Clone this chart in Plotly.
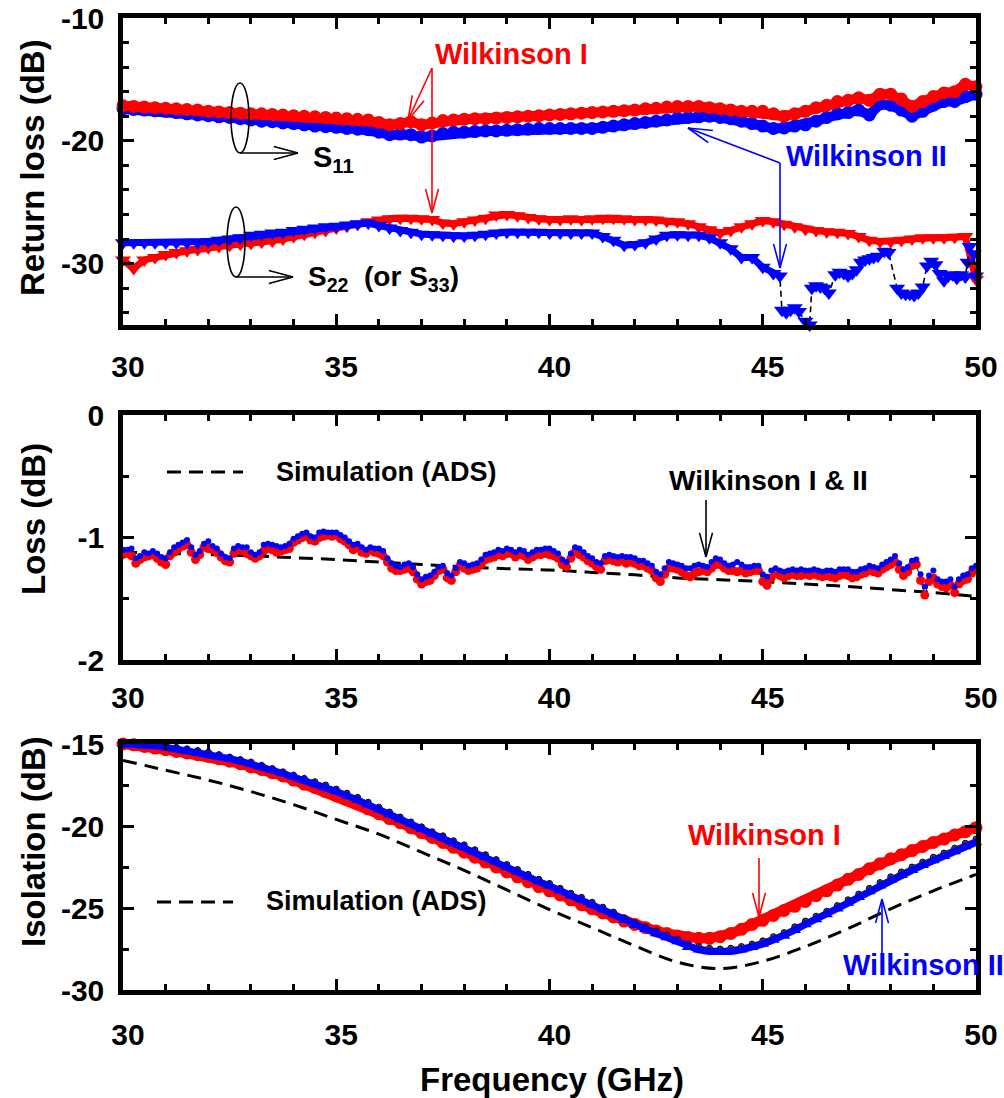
import math
import plotly.graph_objects as go

W, H = 1004, 1098
FONT = "Liberation Sans, Arial, Helvetica, sans-serif"
RED = "#ff0000"
BLUE = "#0000ff"

# ---------------------------------------------------------------- data
# measurement sweep, 0.25 GHz steps from 30 to 50 GHz
f_band = [round(30 + 0.25 * i, 2) for i in range(81)]

# return loss S11 (dB)
s11_wil1 = [
    -17.15, -17.2, -17.25, -17.3,
    -17.35, -17.4, -17.45, -17.5,
    -17.6, -17.65, -17.7, -17.75,
    -17.8, -17.8, -17.85, -17.9,
    -17.95, -18.0, -18.05, -18.1,
    -18.15, -18.2, -18.25, -18.3,
    -18.5, -18.7, -18.6, -18.45,
    -18.7, -18.55, -18.35, -18.3,
    -18.25, -18.2, -18.2, -18.15,
    -18.1, -18.05, -18.0, -17.95,
    -17.9, -17.85, -17.8, -17.75,
    -17.7, -17.65, -17.6, -17.55,
    -17.5, -17.4, -17.35, -17.25,
    -17.2, -17.2, -17.2, -17.3,
    -17.4, -17.5, -17.6, -17.6,
    -17.6, -17.8, -18.0, -17.8,
    -17.6, -17.3, -17.1, -16.8,
    -16.7, -16.5, -16.7, -16.2,
    -16.2, -16.6, -17.2, -16.8,
    -16.4, -16.1, -16.0, -15.4,
    -15.6,
]
s11_wil2 = [
    -17.4, -17.45, -17.5, -17.55,
    -17.6, -17.7, -17.8, -17.9,
    -17.95, -18.05, -18.1, -18.2,
    -18.3, -18.4, -18.45, -18.55,
    -18.6, -18.7, -18.8, -18.85,
    -18.9, -19.0, -19.05, -19.1,
    -19.3, -19.5, -19.45, -19.5,
    -19.7, -19.6, -19.4, -19.3,
    -19.3, -19.25, -19.2, -19.2,
    -19.15, -19.1, -19.05, -19.0,
    -19.0, -19.0, -19.0, -19.0,
    -19.0, -18.9, -18.8, -18.7,
    -18.6, -18.5, -18.4, -18.3,
    -18.15, -18.1, -18.05, -18.0,
    -18.1, -18.2, -18.4, -18.6,
    -18.8, -19.0, -18.95, -18.8,
    -18.7, -18.4, -18.1, -17.8,
    -17.7, -17.5, -17.9, -17.0,
    -17.1, -17.5, -18.0, -17.6,
    -17.1, -16.8, -16.8, -16.4,
    -16.2,
]

# return loss S22 (dB)
s22_wil1 = [
    -29.7, -30.4, -29.7, -29.5,
    -29.25, -29.1, -28.95, -28.85,
    -28.7, -28.6, -28.5, -28.4,
    -28.35, -28.25, -28.15, -28.0,
    -27.8, -27.6, -27.45, -27.3,
    -27.1, -26.95, -26.8, -26.6,
    -26.45, -26.35, -26.3, -26.3,
    -26.35, -26.4, -26.7, -26.75,
    -26.6, -26.45, -26.3, -26.05,
    -26.0, -26.1, -26.25, -26.35,
    -26.4, -26.4, -26.35, -26.4,
    -26.35, -26.3, -26.3, -26.35,
    -26.4, -26.4, -26.45, -26.55,
    -26.6, -26.75, -27.0, -27.25,
    -27.5, -27.3, -27.0, -26.75,
    -26.5, -26.6, -26.8, -27.0,
    -27.2, -27.3, -27.4, -27.45,
    -27.55, -27.8, -28.1, -28.2,
    -28.2, -28.1, -28.0, -27.9,
    -27.9, -27.9, -27.85, -27.8,
    -31.3,
]
# Wilkinson II S22: regular sweep up to 45.25 GHz, then the resolved points
f_s22_wil2 = f_band[:62] + [
    45.4, 45.45, 45.55, 45.65, 45.75, 45.85, 46.0, 46.1, 46.15, 46.25,
    46.35, 46.45, 46.55, 46.7, 46.8, 46.9, 47.0, 47.1, 47.2, 47.3,
    47.4, 47.5, 47.6, 47.7, 47.85, 47.95, 48.15, 48.25, 48.35, 48.45,
    48.55, 48.65, 48.75, 48.85, 48.95, 49.05, 49.15, 49.25, 49.35, 49.45,
    49.55, 49.65, 49.75, 49.8, 49.85, 49.95, 50.0,
]
s22_wil2 = [
    -28.3, -28.3, -28.3, -28.3,
    -28.3, -28.3, -28.3, -28.3,
    -28.2, -28.1, -28.0, -27.9,
    -27.7, -27.6, -27.5, -27.45,
    -27.3, -27.2, -27.1, -27.0,
    -26.95, -26.85, -26.75, -26.7,
    -26.9, -27.1, -27.3, -27.45,
    -27.6, -27.65, -27.7, -27.75,
    -27.75, -27.7, -27.6, -27.5,
    -27.45, -27.45, -27.45, -27.45,
    -27.5, -27.5, -27.5, -27.5,
    -27.5, -27.8, -28.1, -28.5,
    -28.45, -28.3, -28.0, -27.7,
    -27.65, -27.7, -27.7, -27.9,
    -28.3, -28.8, -29.5, -29.5,
    -30.3, -30.8,
    -31.0, -33.8, -34.0, -33.8, -33.6, -33.9, -34.7, -35.0, -32.0, -31.8,
    -31.9, -32.0, -32.4, -30.9, -30.7, -30.8, -31.0, -30.8, -30.5, -29.9,
    -29.7, -29.6, -29.5, -29.4, -29.0, -29.1, -32.0, -32.4, -32.5, -32.5,
    -32.6, -32.4, -31.9, -30.2, -29.8, -30.1, -30.8, -31.4, -31.0, -30.9,
    -31.2, -30.9, -31.1, -29.9, -28.6, -29.2, -31.0,
]
N_S22_DENSE = 63  # points of the Wilkinson II S22 trace that form a solid band

# insertion loss, 0.1 GHz steps (dB)
f_loss = [round(30 + 0.1 * i, 1) for i in range(201)]
loss_wil1 = [
    -1.14, -1.13, -1.15, -1.21, -1.18, -1.16, -1.15, -1.14, -1.17, -1.20,
    -1.22, -1.15, -1.12, -1.09, -1.07, -1.06, -1.12, -1.18, -1.14, -1.08,
    -1.09, -1.10, -1.12, -1.16, -1.19, -1.20, -1.13, -1.10, -1.11, -1.13,
    -1.15, -1.17, -1.15, -1.11, -1.09, -1.10, -1.12, -1.11, -1.10, -1.09,
    -1.04, -1.02, -1.00, -0.99, -1.02, -1.03, -1.00, -0.99, -0.98, -0.99,
    -0.98, -1.01, -1.03, -1.06, -1.10, -1.08, -1.12, -1.13, -1.10, -1.12,
    -1.13, -1.15, -1.20, -1.25, -1.27, -1.27, -1.26, -1.25, -1.28, -1.34,
    -1.38, -1.36, -1.35, -1.31, -1.27, -1.26, -1.33, -1.35, -1.28, -1.23,
    -1.25, -1.27, -1.26, -1.25, -1.22, -1.18, -1.17, -1.16, -1.14, -1.15,
    -1.13, -1.13, -1.16, -1.14, -1.15, -1.18, -1.16, -1.14, -1.14, -1.13,
    -1.14, -1.15, -1.17, -1.22, -1.24, -1.17, -1.12, -1.14, -1.16, -1.19,
    -1.21, -1.24, -1.26, -1.19, -1.18, -1.19, -1.20, -1.19, -1.21, -1.20,
    -1.21, -1.23, -1.23, -1.25, -1.27, -1.33, -1.36, -1.30, -1.25, -1.25,
    -1.26, -1.28, -1.31, -1.32, -1.29, -1.28, -1.27, -1.28, -1.25, -1.22,
    -1.22, -1.25, -1.27, -1.27, -1.28, -1.27, -1.29, -1.28, -1.27, -1.27,
    -1.36, -1.39, -1.33, -1.29, -1.31, -1.33, -1.31, -1.30, -1.31, -1.31,
    -1.30, -1.31, -1.30, -1.31, -1.32, -1.31, -1.32, -1.33, -1.31, -1.30,
    -1.31, -1.33, -1.32, -1.30, -1.29, -1.27, -1.28, -1.29, -1.26, -1.24,
    -1.22, -1.20, -1.26, -1.31, -1.28, -1.23, -1.22, -1.35, -1.47, -1.36,
    -1.33, -1.38, -1.40, -1.41, -1.39, -1.45, -1.38, -1.35, -1.34, -1.29,
    -1.26,
]
loss_wil2 = [
    -1.10, -1.10, -1.09, -1.17, -1.15, -1.12, -1.13, -1.11, -1.13, -1.16,
    -1.17, -1.12, -1.08, -1.06, -1.04, -1.02, -1.08, -1.14, -1.11, -1.05,
    -1.03, -1.07, -1.09, -1.13, -1.16, -1.17, -1.09, -1.07, -1.08, -1.08,
    -1.12, -1.14, -1.12, -1.06, -1.05, -1.06, -1.07, -1.08, -1.07, -1.05,
    -1.01, -0.99, -0.97, -0.96, -0.99, -1.00, -0.96, -0.95, -0.96, -0.96,
    -0.96, -0.98, -1.00, -1.03, -1.06, -1.05, -1.08, -1.10, -1.08, -1.09,
    -1.09, -1.11, -1.17, -1.21, -1.23, -1.24, -1.22, -1.21, -1.24, -1.30,
    -1.34, -1.32, -1.31, -1.28, -1.24, -1.23, -1.29, -1.31, -1.25, -1.20,
    -1.21, -1.23, -1.22, -1.21, -1.18, -1.14, -1.13, -1.12, -1.10, -1.11,
    -1.09, -1.10, -1.12, -1.10, -1.11, -1.14, -1.12, -1.10, -1.10, -1.09,
    -1.09, -1.11, -1.13, -1.18, -1.20, -1.13, -1.08, -1.09, -1.12, -1.15,
    -1.17, -1.20, -1.21, -1.15, -1.14, -1.15, -1.16, -1.15, -1.16, -1.16,
    -1.17, -1.19, -1.19, -1.21, -1.23, -1.28, -1.30, -1.25, -1.20, -1.21,
    -1.22, -1.23, -1.25, -1.25, -1.23, -1.22, -1.23, -1.24, -1.20, -1.17,
    -1.18, -1.21, -1.23, -1.22, -1.20, -1.22, -1.24, -1.24, -1.23, -1.23,
    -1.30, -1.32, -1.27, -1.25, -1.27, -1.28, -1.27, -1.26, -1.27, -1.26,
    -1.27, -1.27, -1.26, -1.27, -1.28, -1.27, -1.27, -1.28, -1.26, -1.26,
    -1.26, -1.28, -1.28, -1.26, -1.25, -1.23, -1.24, -1.25, -1.22, -1.20,
    -1.18, -1.15, -1.21, -1.26, -1.24, -1.19, -1.18, -1.30, -1.40, -1.31,
    -1.27, -1.34, -1.36, -1.36, -1.34, -1.40, -1.34, -1.31, -1.30, -1.25,
    -1.23,
]

# ADS simulation, 1 GHz steps
f_sim = list(range(30, 51))
loss_sim = [
    -1.12, -1.13, -1.14, -1.15, -1.165, -1.18, -1.20, -1.22, -1.24, -1.255,
    -1.265, -1.285, -1.305, -1.33, -1.345, -1.36, -1.38, -1.40, -1.425, -1.45,
    -1.48,
]
iso_sim = [
    -16.0, -16.6, -17.2, -17.9, -18.7, -19.6, -20.5, -21.6, -22.7, -23.9,
    -25.1, -26.2, -27.3, -28.3, -28.7, -28.25, -27.35, -26.25, -25.05, -23.95,
    -22.95,
]

# isolation (dB)
iso_wil1 = [
    -15.0, -15.05, -15.15, -15.25,
    -15.35, -15.45, -15.55, -15.65,
    -15.75, -15.9, -16.05, -16.2,
    -16.4, -16.55, -16.75, -16.95,
    -17.2, -17.45, -17.65, -17.9,
    -18.15, -18.4, -18.65, -18.95,
    -19.25, -19.55, -19.8, -20.1,
    -20.4, -20.7, -21.0, -21.3,
    -21.6, -21.9, -22.2, -22.5,
    -22.8, -23.1, -23.4, -23.7,
    -23.95, -24.2, -24.5, -24.8,
    -25.05, -25.3, -25.55, -25.8,
    -26.0, -26.2, -26.4, -26.55,
    -26.7, -26.8, -26.85, -26.85,
    -26.75, -26.55, -26.3, -26.0,
    -25.75, -25.45, -25.15, -24.9,
    -24.6, -24.25, -23.95, -23.6,
    -23.25, -22.95, -22.6, -22.3,
    -22.0, -21.75, -21.5, -21.25,
    -21.0, -20.8, -20.55, -20.35,
    -20.1,
]
iso_wil2 = [
    -15.0, -15.0, -15.05, -15.1,
    -15.2, -15.3, -15.4, -15.5,
    -15.6, -15.75, -15.9, -16.05,
    -16.2, -16.4, -16.6, -16.8,
    -17.0, -17.2, -17.45, -17.65,
    -17.9, -18.15, -18.4, -18.7,
    -19.0, -19.3, -19.6, -19.9,
    -20.2, -20.5, -20.75, -21.05,
    -21.3, -21.6, -21.9, -22.2,
    -22.5, -22.8, -23.1, -23.4,
    -23.65, -23.95, -24.25, -24.5,
    -24.8, -25.1, -25.4, -25.75,
    -26.05, -26.3, -26.55, -26.8,
    -27.05, -27.4, -27.55, -27.65,
    -27.7, -27.65, -27.55, -27.4,
    -27.2, -26.95, -26.7, -26.35,
    -26.0, -25.7, -25.4, -25.05,
    -24.7, -24.35, -24.0, -23.65,
    -23.3, -23.0, -22.7, -22.4,
    -22.1, -21.85, -21.55, -21.25,
    -21.0,
]
iso_wil2_b = [
    -15.0, -14.95, -15.0, -15.05,
    -15.1, -15.2, -15.3, -15.4,
    -15.5, -15.65, -15.8, -15.95,
    -16.1, -16.3, -16.5, -16.7,
    -16.9, -17.1, -17.3, -17.5,
    -17.75, -18.0, -18.25, -18.55,
    -18.85, -19.15, -19.45, -19.75,
    -20.05, -20.35, -20.6, -20.9,
    -21.15, -21.45, -21.75, -22.05,
    -22.35, -22.65, -22.95, -23.25,
    -23.5, -23.8, -24.1, -24.35,
    -24.65, -24.95, -25.25, -25.6,
    -25.9, -26.15, -26.4, -26.65,
    -26.9, -27.2, -27.35, -27.45,
    -27.5, -27.45, -27.35, -27.2,
    -27.0, -26.75, -26.5, -26.15,
    -25.8, -25.5, -25.2, -24.85,
    -24.5, -24.15, -23.8, -23.45,
    -23.1, -22.8, -22.5, -22.2,
    -21.9, -21.65, -21.35, -21.05,
    -20.8,
]

# tick labels
x_ticks = [30, 35, 40, 45, 50]
y_ticks = {
    1: [-30, -20, -10],
    2: [-2, -1, 0],
    3: [-30, -25, -20, -15],
}

for arr in (s11_wil1, s11_wil2, s22_wil1, iso_wil1, iso_wil2, iso_wil2_b):
    assert len(arr) == len(f_band), len(arr)
assert len(f_s22_wil2) == len(s22_wil2), (len(f_s22_wil2), len(s22_wil2))
assert len(loss_wil1) == len(f_loss) == len(loss_wil2)
assert len(loss_sim) == len(f_sim) == len(iso_sim)

# ---------------------------------------------------------------- layout helpers
X_LEFT, X_RIGHT = 123, 976
PANELS = {1: (18, 325), 2: (415, 660), 3: (744, 990)}   # (top, bottom) in px


def px(x):
    return x / W


def py(y):
    return 1 - y / H


shapes = []
annotations = []


def arrow(x0, y0, x1, y1, color, head=25, spread=15):
    """Thin arrow with an open V head at (x1, y1); pixel coordinates."""
    line = dict(color=color, width=1.6)
    shapes.append(dict(type="line", xref="paper", yref="paper",
                       x0=px(x0), y0=py(y0), x1=px(x1), y1=py(y1), line=line))
    ang = math.atan2(y0 - y1, x0 - x1)
    for s in (-1, 1):
        a = ang + s * math.radians(spread)
        bx, by = x1 + head * math.cos(a), y1 + head * math.sin(a)
        shapes.append(dict(type="line", xref="paper", yref="paper",
                           x0=px(x1), y0=py(y1), x1=px(bx), y1=py(by), line=line))


def ellipse(x0, y0, x1, y1):
    shapes.append(dict(type="circle", xref="paper", yref="paper",
                       x0=px(x0), y0=py(y1), x1=px(x1), y1=py(y0),
                       line=dict(color="black", width=1.6)))


def label(text, x, y, color="black", size=28, xanchor="left", angle=0):
    annotations.append(dict(text=text, x=px(x), y=py(y), xref="paper", yref="paper",
                            xanchor=xanchor, yanchor="middle", showarrow=False,
                            textangle=angle,
                            font=dict(family=FONT, size=size, color=color, weight="bold")))


def dash_sample(x0, x1, y):
    shapes.append(dict(type="line", xref="paper", yref="paper",
                       x0=px(x0), y0=py(y), x1=px(x1), y1=py(y),
                       line=dict(color="black", width=3, dash="14px,8px")))


# ---------------------------------------------------------------- traces
fig = go.Figure()


def add(ax, **kw):
    kw.setdefault("cliponaxis", False)
    kw.setdefault("showlegend", False)
    kw.setdefault("hoverinfo", "skip")
    fig.add_trace(go.Scatter(xaxis="x" + ax, yaxis="y" + ax, **kw))


# panel 1: return loss
add("", x=f_band, y=s11_wil2, mode="lines+markers",
    line=dict(color=BLUE, width=10), marker=dict(symbol="circle", size=13, color=BLUE))
add("", x=f_band, y=s11_wil1, mode="lines+markers",
    line=dict(color=RED, width=10), marker=dict(symbol="circle", size=13, color=RED))
add("", x=f_band, y=s22_wil1, mode="lines+markers",
    line=dict(color=RED, width=7), marker=dict(symbol="triangle-down", size=14, color=RED))
add("", x=f_s22_wil2, y=s22_wil2, mode="lines",
    line=dict(color="black", width=1.6, dash="6px,4px"))
add("", x=f_s22_wil2[:N_S22_DENSE], y=s22_wil2[:N_S22_DENSE], mode="lines",
    line=dict(color=BLUE, width=7))
add("", x=f_s22_wil2, y=s22_wil2, mode="markers",
    marker=dict(symbol="triangle-down", size=14, color=BLUE))

# panel 2: insertion loss
add("2", x=f_sim, y=loss_sim, mode="lines", line=dict(color="black", width=3, dash="14px,8px",
                                                       shape="spline"))
add("2", x=f_loss, y=loss_wil1, mode="lines+markers",
    line=dict(color="black", width=1), marker=dict(symbol="circle", size=9, color=RED))
add("2", x=f_loss, y=loss_wil2, mode="markers",
    marker=dict(symbol="circle", size=6, color=BLUE))

# panel 3: isolation
add("3", x=f_sim, y=iso_sim, mode="lines", line=dict(color="black", width=3, dash="14px,8px",
                                                      shape="spline"))
add("3", x=f_band, y=iso_wil1, mode="lines+markers",
    line=dict(color=RED, width=10), marker=dict(symbol="circle", size=13, color=RED))
add("3", x=f_band, y=iso_wil2_b, mode="lines+markers",
    line=dict(color="#333333", width=2),
    marker=dict(symbol="circle", size=6, color="#555555", line=dict(color="black", width=1)))
add("3", x=f_band, y=iso_wil2, mode="lines+markers",
    line=dict(color=BLUE, width=7), marker=dict(symbol="triangle-up", size=11, color=BLUE))

# ---------------------------------------------------------------- axes
TICKFONT = dict(family=FONT, size=30, color="black", weight="bold")


def axis_common():
    return dict(showline=True, linewidth=4.5, linecolor="black", mirror="ticks",
                ticks="inside", ticklen=11, tickwidth=3, tickcolor="black",
                showgrid=False, zeroline=False, tickfont=TICKFONT, fixedrange=True,
                automargin=False, tickmode="array")


y_specs = {
    1: dict(range=[-35, -10], minor_dtick=2),
    2: dict(range=[-2, 0], minor_dtick=0.5),
    3: dict(range=[-30, -15], minor_dtick=2.5),
}
x_standoff = {1: 11, 2: 7, 3: 14}

layout_axes = {}
for i in (1, 2, 3):
    sfx = "" if i == 1 else str(i)
    top, bottom = PANELS[i]
    xa = axis_common()
    xa.update(range=[30, 50], tickvals=x_ticks, ticktext=[str(v) for v in x_ticks],
              domain=[px(X_LEFT), px(X_RIGHT)],
              anchor="y" + sfx, ticklabelstandoff=x_standoff[i], ticklabelshift=5,
              minor=dict(dtick=1, tick0=30, ticks="inside", ticklen=6, tickwidth=2.5,
                         tickcolor="black"))
    ya = axis_common()
    spec = y_specs[i]
    ya.update(range=spec["range"], tickvals=y_ticks[i],
              ticktext=[str(v) for v in y_ticks[i]],
              domain=[py(bottom), py(top)], anchor="x" + sfx, ticklabelstandoff=8,
              minor=dict(dtick=spec["minor_dtick"], tick0=0, ticks="inside", ticklen=6,
                         tickwidth=2.5, tickcolor="black"))
    layout_axes["xaxis" + sfx] = xa
    layout_axes["yaxis" + sfx] = ya

# ---------------------------------------------------------------- annotations
# axis titles
label("Return loss (dB)", 33, 168, size=33, xanchor="center", angle=-90)
label("Loss (dB)", 33, 519, size=33, xanchor="center", angle=-90)
label("Isolation (dB)", 33, 842, size=33, xanchor="center", angle=-90)
label("Frequency (GHz)", 552, 1079, size=33, xanchor="center")

# panel 1 call-outs
label("Wilkinson I", 433, 54, color=RED, size=29)
arrow(432, 68, 408, 120, RED)
arrow(432, 68, 432, 213, RED)
label("Wilkinson II", 784, 156, color=BLUE, size=29)
arrow(780, 163, 688, 128, BLUE)
arrow(780, 163, 780, 268, BLUE)
ellipse(231, 83, 249, 153)
arrow(240, 153, 298, 153, "black")
label("S<sub>11</sub>", 311, 159, size=29)
ellipse(227, 207, 245, 277)
arrow(236, 277, 293, 277, "black")
label("S<sub>22</sub>  (or S<sub>33</sub>)", 306, 278, size=28)

# panel 2 call-outs
dash_sample(167, 243, 472)
label("Simulation (ADS)", 274, 472, size=27)
label("Wilkinson I &amp; II", 667, 480, size=28)
arrow(706, 500, 706, 557, "black")

# panel 3 call-outs
dash_sample(157, 233, 902)
label("Simulation (ADS)", 264, 901, size=27)
label("Wilkinson I", 686, 835, color=RED, size=29)
arrow(759, 858, 759, 917, RED)
label("Wilkinson II", 841, 965, color=BLUE, size=29)
arrow(882, 953, 882, 899, BLUE)

fig.update_layout(
    template="none",
    width=W, height=H,
    margin=dict(l=0, r=0, t=0, b=0, autoexpand=False),
    paper_bgcolor="white", plot_bgcolor="white",
    font=dict(family=FONT, color="black"),
    shapes=shapes, annotations=annotations,
    **layout_axes,
)

fig.write_html("out.html")
